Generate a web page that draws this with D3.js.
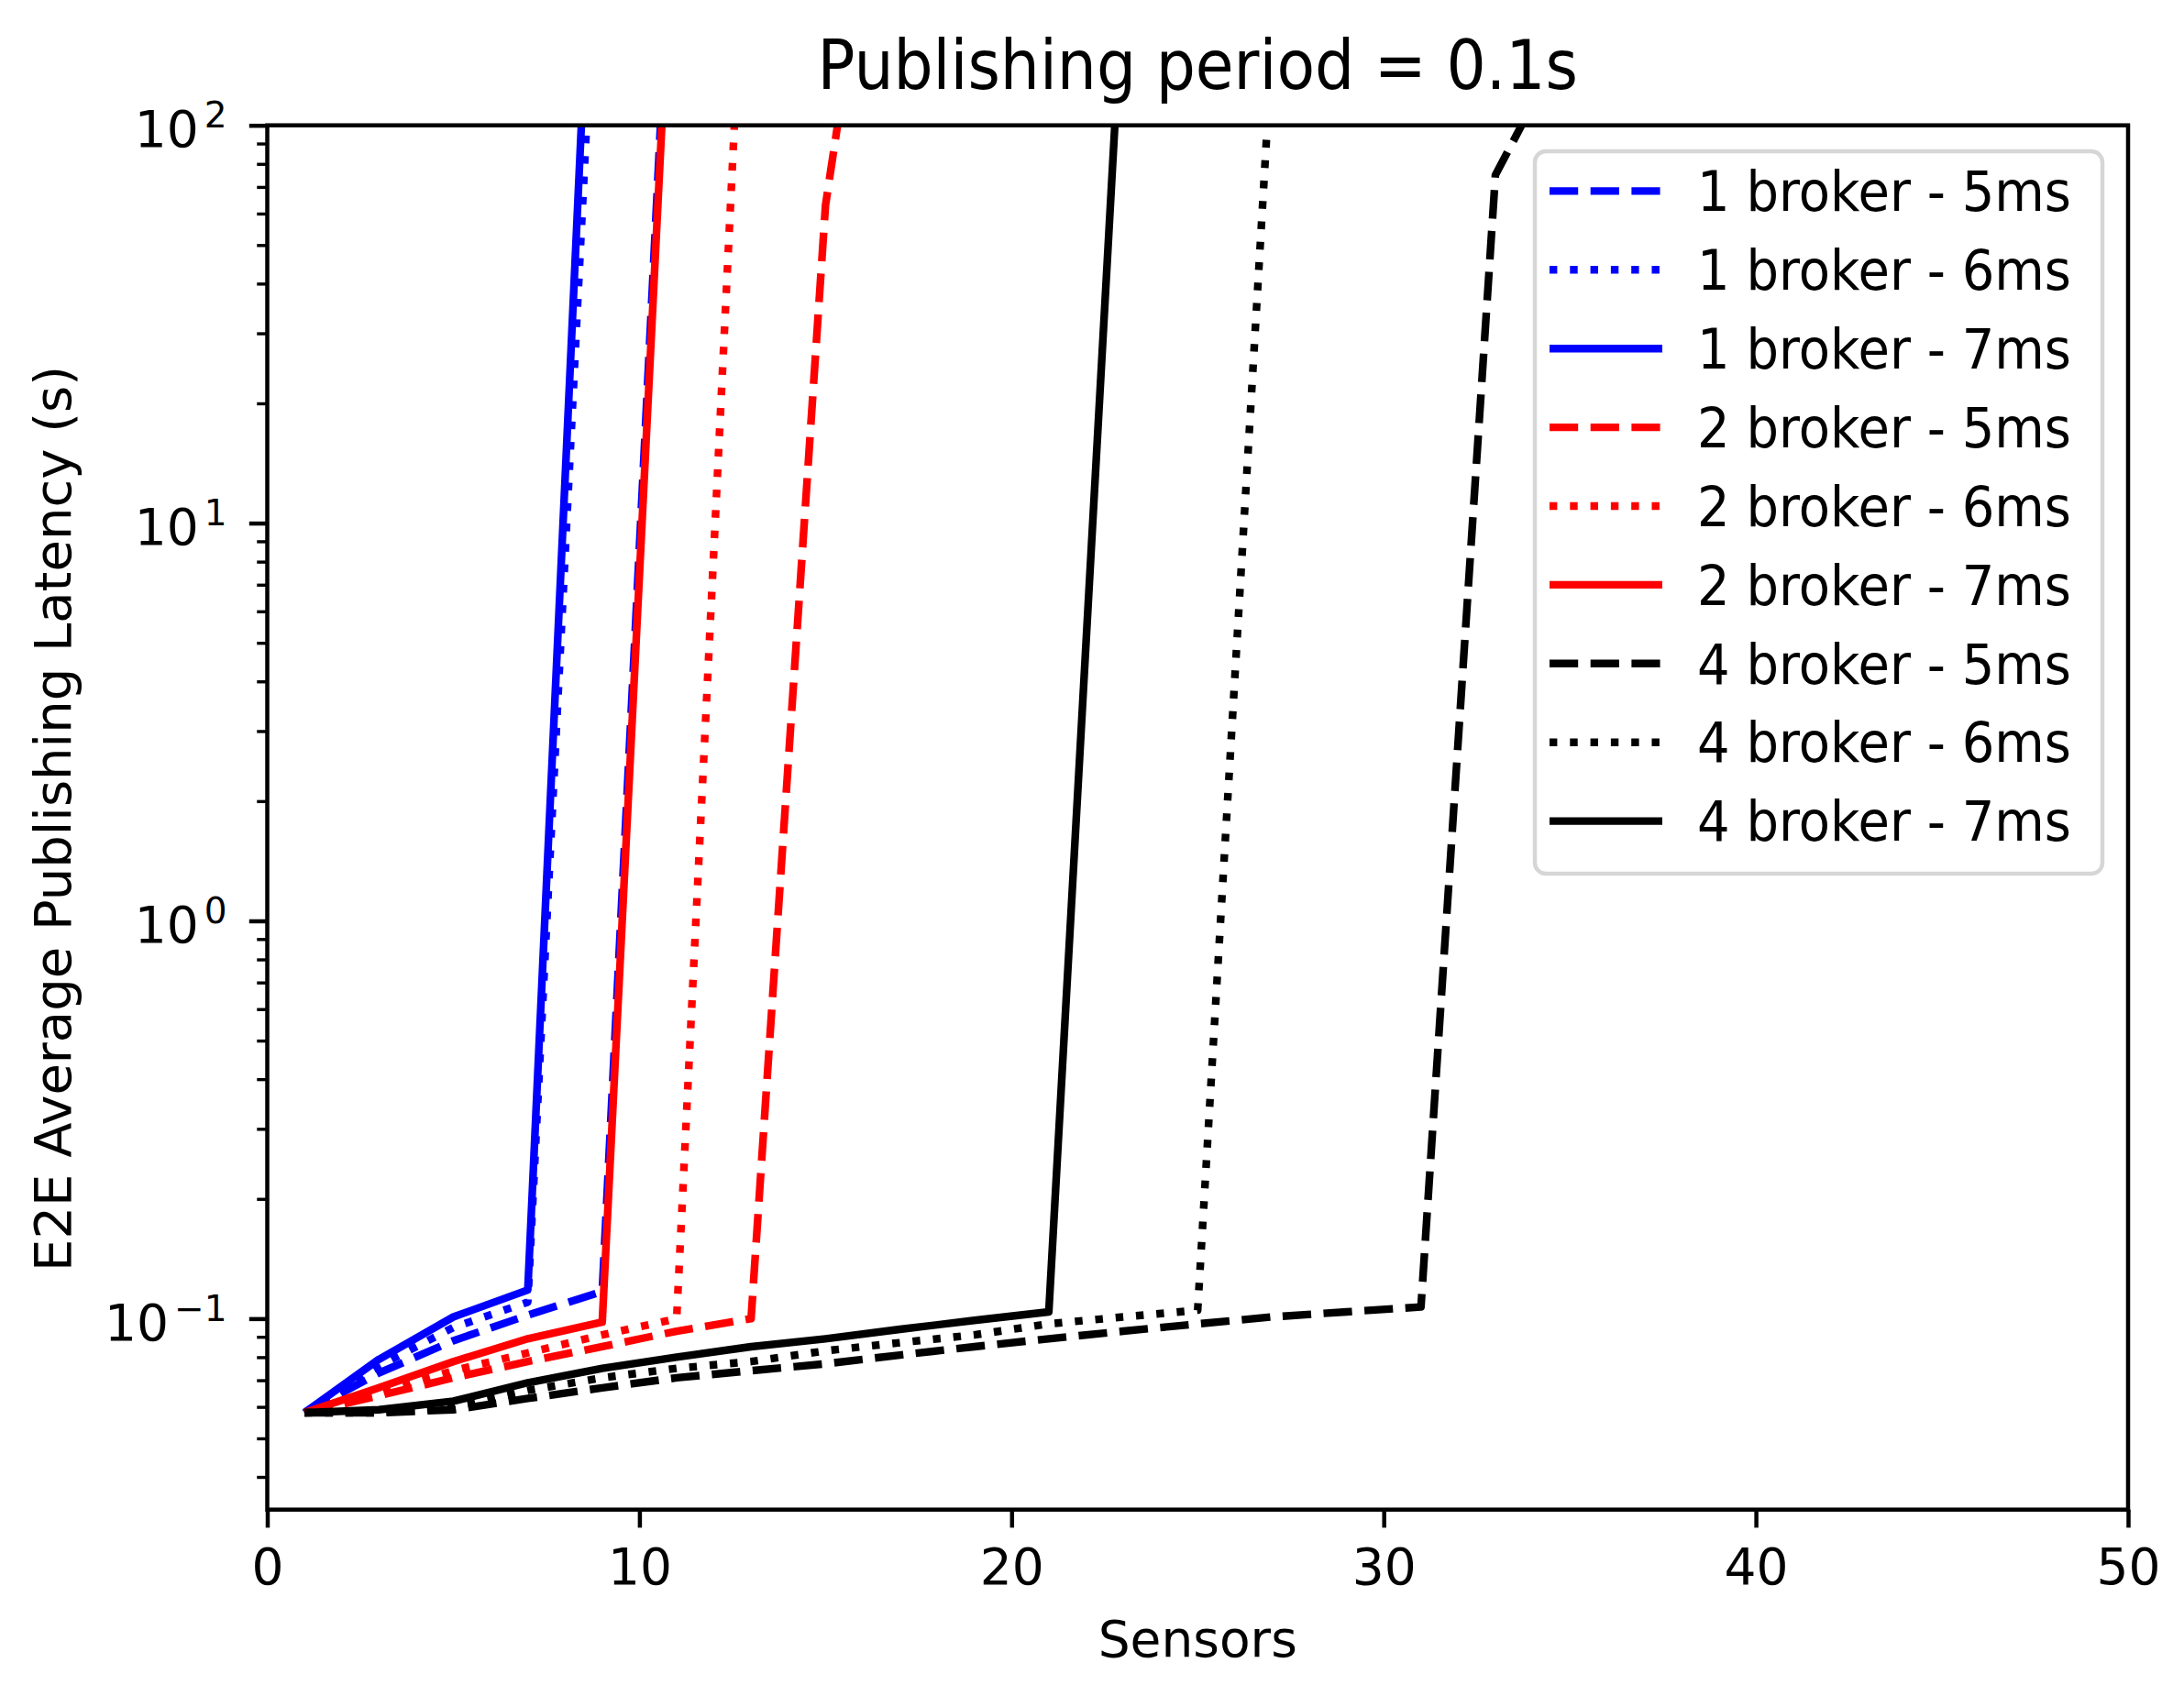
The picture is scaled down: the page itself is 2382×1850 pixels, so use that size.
<!DOCTYPE html>
<html>
<head>
<meta charset="utf-8">
<script src="https://cdn.jsdelivr.net/npm/d3@7"></script>
<style>
    body { margin: 0; background: #fff; }
    text { font-family: "DejaVu Sans", sans-serif; fill: #000; }
</style>
</head>
<body>
<div id="chart"></div>
<script>
// sensors are sampled every 2 (1, 3, 5, ...); each series stops where it leaves the plot
const sensors = d3.range(1, 37, 2);

const b1_5ms = [0.058, 0.073, 0.088, 0.102, 0.117, 650];
const b1_6ms = [0.058, 0.076, 0.095, 0.110, 615];
const b1_7ms = [0.058, 0.079, 0.101, 0.118, 1380];
const b2_5ms = [0.058, 0.064, 0.071, 0.078, 0.085, 0.093, 0.100, 63, 1100];
const b2_6ms = [0.058, 0.065, 0.074, 0.082, 0.091, 0.100, 740];
const b2_7ms = [0.058, 0.067, 0.078, 0.089, 0.098, 560];
const b4_5ms = [0.058, 0.058, 0.059, 0.063, 0.067, 0.071, 0.074, 0.077, 0.081,
                0.085, 0.089, 0.093, 0.097, 0.101, 0.104, 0.107, 75, 170];
const b4_6ms = [0.058, 0.058, 0.060, 0.066, 0.071, 0.075, 0.078, 0.083, 0.087,
                0.091, 0.097, 0.101, 0.105, 161];
const b4_7ms = [0.058, 0.059, 0.062, 0.069, 0.075, 0.080, 0.085, 0.089, 0.094,
                0.099, 0.104, 240];

const seriesNames = ["1 broker - 5ms", "1 broker - 6ms", "1 broker - 7ms",
                     "2 broker - 5ms", "2 broker - 6ms", "2 broker - 7ms",
                     "4 broker - 5ms", "4 broker - 6ms", "4 broker - 7ms"];
const seriesValues = [b1_5ms, b1_6ms, b1_7ms, b2_5ms, b2_6ms, b2_7ms, b4_5ms, b4_6ms, b4_7ms];

const xTicks = [0, 10, 20, 30, 40, 50];
const yTicks = [0.1, 1, 10, 100];
const yTickExp = ["\u22121", "0", "1", "2"];

const titleText = "Publishing period = 0.1s";
const xLabel = "Sensors";
const yLabel = "E2E Average Publishing Latency (s)";

const svg = {
    width: 2382,
    height: 1850,
    margin: { top: 136.7, right: 61, bottom: 203.3, left: 291.5 },
    lineWidth: 8.4,
    spineWidth: 4.5
};

const colors = ["#0000ff", "#ff0000", "#000000"];
const dashes = ["31.2,13.5", "8.4,13.9", null];

const plotLeft = svg.margin.left,
    plotRight = svg.width - svg.margin.right,
    plotTop = svg.margin.top,
    plotBottom = svg.height - svg.margin.bottom;

const xScale = d3.scaleLinear()
    .domain([0, 50])
    .range([plotLeft, plotRight]);

const yScale = d3.scaleLog()
    .domain([0.0331, 100])
    .range([plotBottom, plotTop]);

const chart = d3.select("#chart")
    .append("svg")
    .attr("width", svg.width)
    .attr("height", svg.height);

chart.append("rect")
    .attr("width", svg.width)
    .attr("height", svg.height)
    .attr("fill", "#fff");

chart.append("clipPath")
    .attr("id", "plot-clip")
    .append("rect")
    .attr("x", plotLeft)
    .attr("y", plotTop)
    .attr("width", plotRight - plotLeft)
    .attr("height", plotBottom - plotTop);

// lines
const line = d3.line()
    .x((d, i) => xScale(sensors[i]))
    .y(d => yScale(d));

chart.append("g")
    .attr("class", "marks")
    .attr("clip-path", "url(#plot-clip)")
    .selectAll("path.series")
    .data(seriesValues)
    .join("path")
    .attr("class", "series")
    .attr("d", line)
    .attr("fill", "none")
    .attr("stroke", (d, i) => colors[Math.floor(i / 3)])
    .attr("stroke-dasharray", (d, i) => dashes[i % 3])
    .attr("stroke-width", svg.lineWidth)
    .attr("stroke-linejoin", "round");

// x axis
const xAxis = d3.axisBottom(xScale)
    .tickValues(xTicks)
    .tickSize(19.7)
    .tickSizeOuter(0)
    .tickFormat(d3.format("d"));

const gx = chart.append("g")
    .attr("class", "axis x")
    .attr("transform", `translate(0, ${plotBottom})`)
    .call(xAxis);

gx.select(".domain").remove();
gx.selectAll(".tick line").attr("stroke", "#000").attr("stroke-width", svg.spineWidth);
gx.selectAll(".tick text")
    .attr("y", 81.3)
    .attr("dy", null)
    .attr("font-size", 55)
    .attr("font-family", "DejaVu Sans")
    .attr("fill", "#000");

// y axis: minor ticks
const yMinor = [];
[-2, -1, 0, 1].forEach(e => {
    d3.range(2, 10).forEach(k => {
        const v = k * Math.pow(10, e);
        if (v >= 0.0331 && v <= 100) yMinor.push(v);
    });
});

const gyMinor = chart.append("g")
    .attr("class", "axis y minor")
    .attr("transform", `translate(${plotLeft}, 0)`)
    .call(d3.axisLeft(yScale).tickValues(yMinor).tickSize(11.25).tickSizeOuter(0).tickFormat(""));

gyMinor.select(".domain").remove();
gyMinor.selectAll(".tick line").attr("stroke", "#000").attr("stroke-width", 3.4);

// y axis: major ticks with 10^n labels
const gy = chart.append("g")
    .attr("class", "axis y major")
    .attr("transform", `translate(${plotLeft}, 0)`)
    .call(d3.axisLeft(yScale).tickValues(yTicks).tickSize(19.7).tickSizeOuter(0).tickFormat(""));

gy.select(".domain").remove();
gy.selectAll(".tick line").attr("stroke", "#000").attr("stroke-width", svg.spineWidth);
gy.selectAll(".tick text").remove();

gy.selectAll(".tick").each(function (d, i) {
    const t = d3.select(this).append("text")
        .attr("x", -44)
        .attr("y", 23)
        .attr("text-anchor", "end")
        .attr("font-size", 55);
    t.append("tspan").text("10");
    t.append("tspan")
        .attr("dx", 6)
        .attr("dy", -21)
        .attr("font-size", 39)
        .text(yTickExp[i]);
});

// frame
chart.append("rect")
    .attr("x", plotLeft)
    .attr("y", plotTop)
    .attr("width", plotRight - plotLeft)
    .attr("height", plotBottom - plotTop)
    .attr("fill", "none")
    .attr("stroke", "#000")
    .attr("stroke-width", svg.spineWidth);

// labels
chart.append("text")
    .attr("transform", `translate(${(plotLeft + plotRight) / 2}, 97.3) scale(1, 1.09)`)
    .attr("text-anchor", "middle")
    .attr("font-size", 68)
    .text(titleText);

chart.append("text")
    .attr("x", (plotLeft + plotRight) / 2)
    .attr("y", 1807)
    .attr("text-anchor", "middle")
    .attr("font-size", 55)
    .text(xLabel);

chart.append("text")
    .attr("transform", `translate(77, 893) rotate(-90)`)
    .attr("text-anchor", "middle")
    .attr("font-size", 56)
    .text(yLabel);

// legend
const legend = chart.append("g").attr("class", "legend");

legend.append("rect")
    .attr("x", 1674)
    .attr("y", 165)
    .attr("width", 2293 - 1674)
    .attr("height", 953 - 165)
    .attr("rx", 12)
    .attr("fill", "#fff")
    .attr("fill-opacity", 0.8)
    .attr("stroke", "#d6d6d6")
    .attr("stroke-width", 4.5);

const rows = legend.selectAll("g.row")
    .data(seriesNames)
    .join("g")
    .attr("class", "row")
    .attr("transform", (d, i) => `translate(0, ${208.4 + i * 85.9})`);

rows.append("line")
    .attr("x1", 1690)
    .attr("x2", 1813)
    .attr("stroke", (d, i) => colors[Math.floor(i / 3)])
    .attr("stroke-dasharray", (d, i) => dashes[i % 3])
    .attr("stroke-width", svg.lineWidth);

rows.append("text")
    .attr("transform", "translate(1851, 21.7) scale(1, 1.09)")
    .attr("font-size", 56)
    .text(d => d);
</script>
</body>
</html>
